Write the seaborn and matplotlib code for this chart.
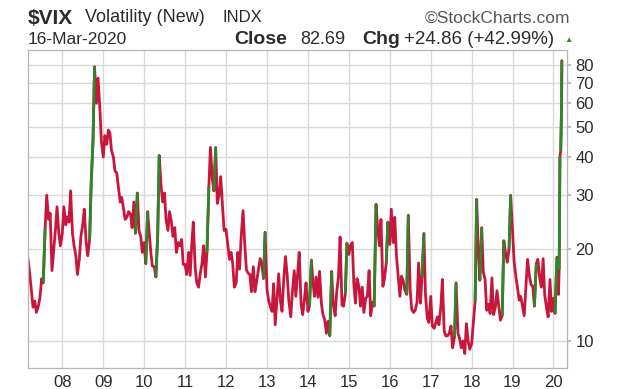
import matplotlib.pyplot as plt
import matplotlib.ticker as mticker
import numpy as np
import pandas as pd
import seaborn as sns

# VIX closes, roughly on the 1st and 15th of each month
vix_2007 = [18.6, 16.8, 14.6, 12.9, 13.5, 12.4, 13.0, 13.8, 16.0, 15.5,
            23.5, 30.0, 25.0, 26.2, 17.0, 19.5, 23.2, 27.5, 22.5, 20.5]
vix_2008 = [22.5, 27.5, 24.0, 25.5, 24.5, 31.0, 22.5, 20.5, 19.0, 16.5, 18.5, 22.0,
            24.0, 27.0, 21.0, 19.0, 21.5, 33.0, 45.0, 79.0, 60.0, 72.5, 58.0, 45.0]
vix_2009 = [40.0, 47.0, 44.0, 49.0, 48.0, 42.0, 40.0, 36.0, 35.5, 32.0, 28.5, 29.5,
            27.0, 25.0, 25.5, 26.5, 26.0, 23.5, 28.5, 22.5, 30.5, 23.0, 22.0, 19.5]
vix_2010 = [21.0, 17.9, 26.5, 22.5, 19.5, 17.6, 17.5, 16.2, 22.0, 40.5, 32.0, 28.5,
            30.5, 25.0, 23.0, 26.5, 24.5, 22.0, 23.5, 19.5, 21.0, 20.5, 21.5, 17.8]
vix_2011 = [17.8, 16.5, 19.5, 16.4, 20.5, 24.5, 17.4, 15.5, 15.0, 16.5, 18.0, 20.5,
            16.2, 19.5, 32.0, 43.0, 33.9, 31.0, 43.0, 28.2, 30.2, 34.5, 27.5, 23.0]
vix_2012 = [23.2, 20.9, 18.5, 19.5, 17.9, 15.0, 15.5, 19.5, 17.2, 21.9, 26.7, 21.1,
            17.1, 16.7, 16.5, 14.5, 17.5, 14.5, 15.7, 17.0, 18.6, 17.9, 16.0, 22.7]
vix_2013 = [14.7, 13.6, 12.9, 12.5, 15.4, 11.3, 13.9, 16.6, 13.5, 12.5, 16.3, 18.9,
            16.2, 13.5, 12.0, 14.4, 17.0, 14.0, 16.6, 19.5, 13.2, 12.2, 13.7, 15.5]
vix_2014 = [12.5, 13.0, 18.4, 15.5, 14.0, 16.2, 13.9, 16.9, 13.3, 12.2, 11.7, 10.6,
            11.6, 10.4, 16.9, 13.2, 12.1, 14.5, 16.3, 21.9, 13.1, 13.0, 14.3, 20.9]
vix_2015 = [19.2, 20.5, 21.0, 15.3, 13.3, 16.0, 15.1, 13.0, 15.0, 12.4, 13.8, 14.0,
            17.0, 12.1, 13.4, 13.0, 28.0, 23.5, 20.5, 25.0, 15.1, 16.0, 18.0, 24.5]
vix_2016 = [20.7, 27.0, 21.0, 25.4, 19.0, 16.5, 14.0, 16.3, 15.7, 14.7, 14.2, 25.8,
            14.8, 12.7, 12.4, 12.6, 13.4, 18.0, 13.3, 16.2, 22.5, 14.2, 11.9, 11.5]
vix_2017 = [14.0, 11.2, 11.0, 11.5, 12.0, 11.3, 12.9, 15.9, 10.8, 10.4, 10.4, 10.6,
            11.2, 9.5, 10.3, 15.5, 10.6, 10.2, 9.5, 10.0, 9.1, 11.4, 10.0, 9.4]
vix_2018 = [9.8, 11.3, 13.5, 29.1, 19.9, 15.8, 23.5, 16.8, 15.9, 12.6, 13.2, 12.3,
            16.1, 12.2, 12.9, 14.6, 12.9, 11.7, 12.1, 21.3, 19.3, 18.1, 20.1, 30.0]
vix_2019 = [23.0, 18.2, 16.1, 14.9, 13.6, 14.0, 12.9, 12.1, 15.2, 18.5, 16.3, 15.3,
            15.1, 13.0, 17.9, 18.5, 16.0, 15.0, 18.6, 14.2, 12.8, 12.0, 15.9, 12.5]
vix_2020 = [13.8, 12.3, 18.8, 14.2]
tail_dates = ["2020-02-21", "2020-02-28", "2020-03-06", "2020-03-13", "2020-03-16"]
tail_vix = [17.1, 40.1, 41.9, 57.8, 82.7]

year_ticks = list(range(2008, 2021))
year_labels = [f"{y % 100:02d}" for y in year_ticks]
price_ticks = [10, 20, 30, 40, 50, 60, 70, 80]

RED = "#c8163c"
GREEN = "#2a8a2a"
GRID = "#d9d9d9"
TXT = "#2b2b2b"

sns.set_theme(style="white")
plt.rcParams["font.family"] = ["Liberation Sans", "DejaVu Sans"]

semi_month = pd.date_range("2007-03-01", "2020-02-15", freq="SMS")
values = (vix_2007 + vix_2008 + vix_2009 + vix_2010 + vix_2011 + vix_2012 + vix_2013
          + vix_2014 + vix_2015 + vix_2016 + vix_2017 + vix_2018 + vix_2019 + vix_2020)
df = pd.DataFrame({
    "date": list(semi_month) + list(pd.to_datetime(tail_dates)),
    "vix": values + tail_vix,
})

fig = plt.figure(figsize=(6.2, 3.89), dpi=100)
ax = fig.add_axes([28 / 620, 1 - 368 / 389, (567 - 28) / 620, (368 - 50) / 389])

sns.lineplot(data=df, x="date", y="vix", color=RED, lw=2.0, ax=ax)

# green on the big up-moves
v = df["vix"].to_numpy()
for i in np.where(v[1:] > v[:-1] * 1.35)[0]:
    seg = df.iloc[i:i + 2]
    ax.plot(seg["date"], seg["vix"], color=GREEN, lw=2.0, solid_capstyle="butt")

ax.set_yscale("log")
ax.set_ylim(8.16, 89.6)
ax.set_xlim(pd.Timestamp("2007-03-01"), pd.Timestamp("2020-05-01"))

ax.yaxis.tick_right()
ax.set_yticks(price_ticks)
ax.set_yticklabels([str(t) for t in price_ticks])
ax.yaxis.set_minor_locator(mticker.NullLocator())
ax.set_xticks([pd.Timestamp(f"{y}-01-01") for y in year_ticks])
ax.set_xticklabels(year_labels)
ax.tick_params(axis="both", labelsize=12, colors=TXT, length=3, color="#b0b0b0")
ax.tick_params(axis="y", pad=3)
ax.tick_params(axis="x", pad=2)
ax.set_xlabel("")
ax.set_ylabel("")

ax.grid(True, color=GRID, lw=1.0)
for s in ax.spines.values():
    s.set_color("#b5b5b5")
    s.set_linewidth(0.9)

# header
r1 = 1 - 18 / 389
r2 = 1 - 40 / 389
fig.text(28 / 620, r1, "$VIX", fontsize=15, fontweight="bold", color=TXT, va="center")
fig.text(85 / 620, r1, "Volatility (New)", fontsize=13, color=TXT, va="center")
fig.text(222 / 620, r1, "INDX", fontsize=12, color=TXT, va="center")
fig.text(570 / 620, r1, "\u00a9StockCharts.com", fontsize=12.5, color="#555555",
         va="center", ha="right")
fig.text(28 / 620, r2, "16-Mar-2020", fontsize=12.5, color=TXT, va="center")
fig.text(234 / 620, r2, "Close", fontsize=14, fontweight="bold", color=TXT, va="center")
fig.text(300 / 620, r2, "82.69", fontsize=13, color=TXT, va="center")
fig.text(362 / 620, r2, "Chg", fontsize=14, fontweight="bold", color=TXT, va="center")
fig.text(404 / 620, r2, "+24.86 (+42.99%)", fontsize=13.5, color=TXT, va="center")
fig.text(564 / 620, r2, "\u25b2", fontsize=6, color=GREEN, va="center")

fig.savefig("out.png", dpi=100)
